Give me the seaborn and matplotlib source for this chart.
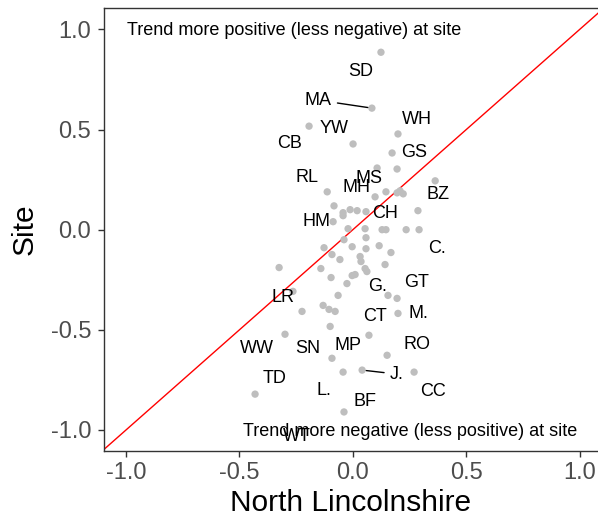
import numpy as np
import pandas as pd
import matplotlib
matplotlib.use('Agg')
import matplotlib.pyplot as plt
import seaborn as sns

# site trends vs North Lincolnshire trend
north_lincs = [0.124, 0.084, 0.199, -0.193, 0.001, 0.173, 0.107, 0.195, 0.363, -0.113,
               0.098, 0.146, 0.195, 0.208, 0.222, -0.083, -0.043, -0.012, 0.019, 0.058,
               0.287, -0.043, -0.087, -0.021, 0.054, 0.129, 0.146, 0.235, 0.292, -0.039,
               0.058, -0.127, -0.092, -0.057, -0.003, 0.058, 0.116, 0.168, 0.032, 0.036,
               0.142, 0.054, -0.325, -0.141, -0.096, -0.003, 0.010, -0.026, -0.264, -0.065,
               0.155, 0.195, -0.131, -0.105, -0.078, -0.224, 0.199, -0.100, -0.299, 0.071,
               -0.092, 0.151, -0.043, 0.041, 0.270, -0.431, -0.039, 0.062]
site = [0.886, 0.607, 0.478, 0.517, 0.428, 0.383, 0.308, 0.303, 0.244, 0.189,
        0.164, 0.189, 0.184, 0.194, 0.179, 0.119, 0.085, 0.100, 0.095, 0.090,
        0.095, 0.070, 0.040, 0.005, 0.005, 0.000, 0.000, 0.000, 0.000, -0.050,
        -0.040, -0.090, -0.124, -0.149, -0.085, -0.095, -0.080, -0.114, -0.134, -0.159,
        -0.174, -0.194, -0.189, -0.194, -0.239, -0.229, -0.224, -0.269, -0.308, -0.328,
        -0.328, -0.343, -0.378, -0.398, -0.408, -0.408, -0.418, -0.483, -0.522, -0.527,
        -0.642, -0.627, -0.711, -0.701, -0.711, -0.821, -0.910, -0.209]

# site codes and where their labels sit
label_names = ['SD', 'MA', 'WH', 'YW', 'CB', 'GS', 'RL', 'MS', 'MH', 'BZ', 'CH', 'HM',
               'C.', 'GT', 'G.', 'LR', 'M.', 'CT', 'RO', 'WW', 'SN', 'MP', 'J.', 'TD',
               'L.', 'CC', 'BF', 'WT']
label_x = [0.036, -0.154, 0.283, -0.083, -0.277, 0.270, -0.202, 0.071, 0.014, 0.376,
           0.142, -0.158, 0.371, 0.283, 0.107, -0.308, 0.287, 0.098, 0.283, -0.422,
           -0.197, -0.021, 0.195, -0.347, -0.127, 0.354, 0.054, -0.246]
label_y = [0.791, 0.647, 0.552, 0.507, 0.428, 0.383, 0.259, 0.254, 0.209, 0.174,
           0.080, 0.040, -0.095, -0.264, -0.284, -0.338, -0.418, -0.433, -0.572, -0.592,
           -0.592, -0.577, -0.721, -0.741, -0.801, -0.806, -0.856, -1.035]
# labels joined to their point by a segment: label index -> point index
seg_labels = [1, 22]
seg_points = [1, 63]

df = pd.DataFrame({'North Lincolnshire': north_lincs, 'Site': site})

sns.set_theme(style='white')
plt.rcParams['font.family'] = ['Liberation Sans', 'DejaVu Sans']

fig = plt.figure(figsize=(5.98, 5.22), dpi=100)
ax = fig.add_axes([0.1739, 0.136, 0.8334, 0.8487])

# 1:1 line
ax.axline((0, 0), slope=1, color='red', lw=1.0, zorder=1)
sns.scatterplot(data=df, x='North Lincolnshire', y='Site', color='#BEBEBE',
                s=28, edgecolor='none', ax=ax, zorder=2)

for i, name in enumerate(label_names):
    if i in seg_labels:
        p = seg_points[seg_labels.index(i)]
        ax.annotate(name, xy=(north_lincs[p], site[p]), xytext=(label_x[i], label_y[i]),
                    ha='center', va='center', fontsize=13, color='black',
                    arrowprops=dict(arrowstyle='-', color='black', lw=1.0,
                                    shrinkA=2, shrinkB=3))
    else:
        ax.text(label_x[i], label_y[i], name, ha='center', va='center',
                fontsize=13, color='black')

ax.text(-0.259, 0.997, 'Trend more positive (less negative) at site',
        ha='center', va='center', fontsize=13, color='black')
ax.text(0.254, -1.01, 'Trend more negative (less positive) at site',
        ha='center', va='center', fontsize=13, color='black')

ax.set_xlim(-1.097, 1.10)
ax.set_ylim(-1.105, 1.107)
ax.set_xticks([-1.0, -0.5, 0.0, 0.5, 1.0])
ax.set_yticks([-1.0, -0.5, 0.0, 0.5, 1.0])
ax.set_xticklabels(['-1.0', '-0.5', '0.0', '0.5', '1.0'])
ax.set_yticklabels(['-1.0', '-0.5', '0.0', '0.5', '1.0'])
ax.tick_params(axis='both', which='major', direction='out', length=4.3, width=1,
               color='#333333', labelcolor='#4D4D4D', labelsize=17,
               bottom=True, left=True)
ax.tick_params(axis='x', pad=3.5)
ax.tick_params(axis='y', pad=5)
for sp in ax.spines.values():
    sp.set_color('#333333')
    sp.set_linewidth(1.0)
ax.grid(False)
ax.set_xlabel('North Lincolnshire', fontsize=21.5, color='black')
ax.set_ylabel('Site', fontsize=21.5, color='black')
ax.xaxis.set_label_coords(0.4956, -0.086)
ax.yaxis.set_label_coords(-0.132, 0.5)

fig.savefig('out.png', dpi=100)
